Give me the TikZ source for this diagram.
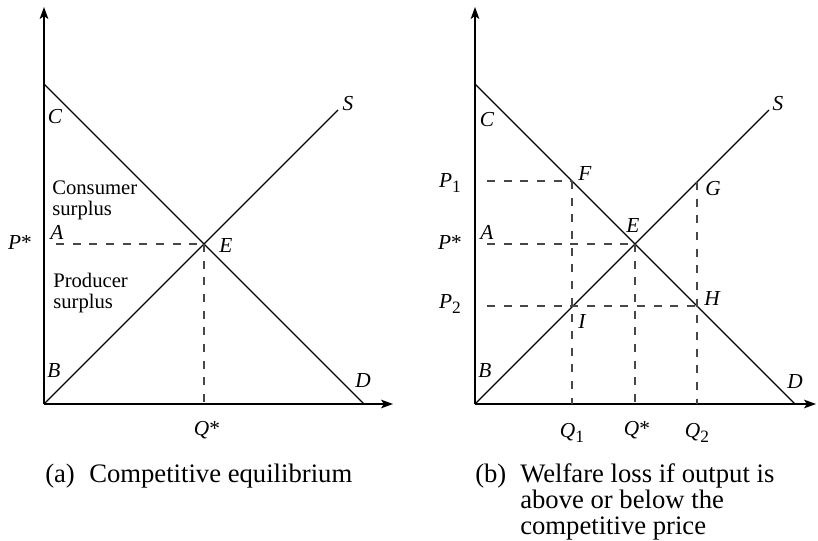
\documentclass[tikz,border=0pt]{standalone}
\usepackage{fontspec}
\setmainfont{Liberation Serif}
\usetikzlibrary{arrows.meta}
\newcommand{\sbs}[1]{\raisebox{-3.6pt}{\upshape\fontsize{13}{13}\selectfont #1}}
\begin{document}
\begin{tikzpicture}[x=0.75pt,y=-0.75pt,
  curve/.style={line width=0.9pt},
  axis/.style={line width=0.9pt,-{Stealth[length=9pt,width=6.5pt,inset=2.2pt]}},
  guide/.style={line width=0.8pt,black!72,dash pattern=on 6pt off 6.5pt},
  lbl/.style={inner sep=0pt,font=\fontsize{16}{17}\selectfont\itshape},
  txt/.style={inner sep=0pt,font=\fontsize{15.5}{16.5}\selectfont,anchor=base west},
  captxt/.style={inner sep=0pt,font=\fontsize{20}{21}\selectfont,anchor=base west}]
\useasboundingbox (0,0) rectangle (818,541);

% ---------- panel (a) ----------
\coordinate (O1) at (44,404);
\coordinate (Y1) at (44,7);
\coordinate (X1) at (393,404);
\coordinate (D1a) at (44,84);
\coordinate (D1b) at (364,404);
\coordinate (S1b) at (338,110);
\coordinate (E1) at (204,244);
\coordinate (A1) at (56,244);
\coordinate (QE1) at (204,404);

\draw[axis] (O1) -- (Y1);
\draw[axis] (O1) -- (X1);
\draw[curve] (D1a) -- (D1b);
\draw[curve] (O1) -- (S1b);
\draw[guide] (A1) -- (E1);
\draw[guide] (E1) -- (QE1);

\node[lbl] (c1) at (55,117) {C};
\node[lbl] (s1) at (348,104) {S};
\node[lbl] (a1) at (57,232) {A};
\node[lbl] (ps1) at (20,243) {P\upshape*};
\node[lbl] (e1) at (226,246) {E};
\node[lbl] (b1) at (54,371) {B};
\node[lbl] (d1) at (363,381) {D};
\node[lbl] (qs1) at (207,430) {Q\upshape*};
\node[txt] (cs1) at (52,195) {Consumer};
\node[txt] (cs2) at (52,216) {surplus};
\node[txt] (ps1a) at (53,288) {Producer};
\node[txt] (ps1b) at (53,309) {surplus};
\node[captxt] (capa1) at (45,483) {(a)};
\node[captxt] (capa2) at (89,483) {Competitive equilibrium};

% ---------- panel (b) ----------
\coordinate (O2) at (475,404);
\coordinate (Y2) at (475,7);
\coordinate (X2) at (816,404);
\coordinate (D2a) at (475,84);
\coordinate (D2b) at (795,404);
\coordinate (S2b) at (769,110);
\coordinate (F) at (572,181);
\coordinate (G) at (697,182);
\coordinate (E2) at (635,244);
\coordinate (H) at (697,306);
\coordinate (P1s) at (487,181);
\coordinate (Pss) at (487,244);
\coordinate (P2s) at (487,306);
\coordinate (Q1e) at (572,404);
\coordinate (QSe) at (635,404);
\coordinate (Q2e) at (697,404);

\draw[axis] (O2) -- (Y2);
\draw[axis] (O2) -- (X2);
\draw[curve] (D2a) -- (D2b);
\draw[curve] (O2) -- (S2b);
\draw[guide] (P1s) -- (F);
\draw[guide] (F) -- (Q1e);
\draw[guide] (Pss) -- (E2);
\draw[guide] (E2) -- (QSe);
\draw[guide] (G) -- (Q2e);
\draw[guide] (P2s) -- (H);

\node[lbl] (c2) at (487,120) {C};
\node[lbl] (s2) at (778,104) {S};
\node[lbl] (p1l) at (450,183) {P\sbs{1}};
\node[lbl] (fl) at (585,174) {F};
\node[lbl] (gl) at (713,189) {G};
\node[lbl] (a2) at (487,232) {A};
\node[lbl] (ps2) at (450,243) {P\upshape*};
\node[lbl] (e2l) at (633,226) {E};
\node[lbl] (p2l) at (450,304) {P\sbs{2}};
\node[lbl] (hl) at (712,299) {H};
\node[lbl] (il) at (582,322) {I};
\node[lbl] (b2) at (485,371) {B};
\node[lbl] (d2) at (795,382) {D};
\node[lbl] (q1l) at (572,433) {Q\sbs{1}};
\node[lbl] (qs2) at (637,430) {Q\upshape*};
\node[lbl] (q2l) at (697,433) {Q\sbs{2}};
\node[captxt] (capb0) at (475,483) {(b)};
\node[captxt] (capb1) at (520,483) {Welfare loss if output is};
\node[captxt] (capb2) at (520,509) {above or below the};
\node[captxt] (capb3) at (520,535) {competitive price};
\end{tikzpicture}
\end{document}
